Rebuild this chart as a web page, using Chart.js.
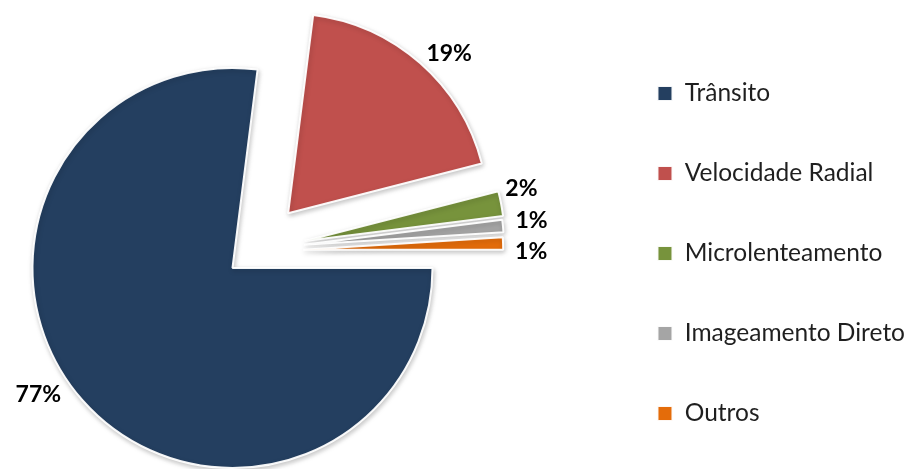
<!DOCTYPE html>
<html>
<head>
<meta charset="utf-8">
<script src="https://cdn.jsdelivr.net/npm/chart.js@4/dist/chart.umd.min.js"></script>
<style>
  html, body { margin: 0; padding: 0; background: #ffffff; overflow: hidden; }
  #wrap { width: 917px; height: 469px; position: relative; overflow: hidden; }
  /* the canvas is a little larger than the frame so the pie can sit close to the left edge */
  #chart { display: block; position: absolute; left: -137px; top: 0; }
</style>
</head>
<body>
<div id="wrap"><canvas id="chart" width="1054" height="507"></canvas></div>
<script>
// Exoplanet discoveries by detection method (share of total, %)
const categories = ['Trânsito', 'Velocidade Radial', 'Microlenteamento', 'Imageamento Direto', 'Outros'];
const shares = [77, 19, 2, 1, 1];
const sliceColors = ['#243F60', '#C0504D', '#77933C', '#A5A5A5', '#E46C0A'];

// How far each slice is pulled away from the pie (px) and the direction of the pull
// (degrees, clockwise from 12 o'clock)
const pullDistance = [0, 78, 77, 75, 73];
const pullDirection = [0, 45.5, 69.5, 72, 75.5];

// Percentage labels: distance from the (pulled) slice centre and angular nudge from the bisector
const labelDistance = [232, 227, 223, 229, 228];
const labelNudge = [8.2, 3.8, -2.7, -0.6, 2.2];

const FONT = 'Lato, "Open Sans", sans-serif';
const rad = d => d * Math.PI / 180;

function pullVector(i) {
  const a = rad(pullDirection[i]);
  return { dx: Math.sin(a) * pullDistance[i], dy: -Math.cos(a) * pullDistance[i] };
}

// Draws every slice shifted outwards by its own pull vector, with a soft drop shadow
const pullOut = {
  id: 'pullOut',
  beforeDatasetDraw(chart, args) {
    const ctx = chart.ctx;
    args.meta.data.forEach((arc, i) => {
      const { dx, dy } = pullVector(i);
      ctx.save();
      ctx.translate(dx, dy);
      ctx.shadowColor = 'rgba(0,0,0,0.22)';
      ctx.shadowBlur = 5;
      ctx.shadowOffsetX = 1;
      ctx.shadowOffsetY = 2;
      arc.draw(ctx);
      ctx.restore();
    });
    return false;
  }
};

// Percentage labels outside each slice
const sliceLabels = {
  id: 'sliceLabels',
  afterDatasetsDraw(chart) {
    const ctx = chart.ctx;
    const meta = chart.getDatasetMeta(0);
    ctx.save();
    ctx.font = 'bold 23px ' + FONT;
    ctx.fillStyle = '#000000';
    ctx.textAlign = 'center';
    ctx.textBaseline = 'middle';
    meta.data.forEach((arc, i) => {
      const { dx, dy } = pullVector(i);
      const mid = (arc.startAngle + arc.endAngle) / 2 + rad(labelNudge[i]);
      const x = arc.x + dx + Math.cos(mid) * labelDistance[i];
      const y = arc.y + dy + Math.sin(mid) * labelDistance[i];
      ctx.fillText(shares[i] + '%', x, y);
    });
    ctx.restore();
  }
};

new Chart(document.getElementById('chart'), {
  type: 'pie',
  data: {
    labels: categories,
    datasets: [{
      data: shares,
      backgroundColor: sliceColors,
      borderColor: 'rgba(255,255,255,0.95)',
      borderWidth: 2,
      radius: 200,
      rotation: 90
    }]
  },
  options: {
    responsive: false,
    animation: false,
    devicePixelRatio: 1,
    layout: { padding: { left: 0, right: 2, top: 0, bottom: 0 } },
    plugins: {
      tooltip: { enabled: false },
      // empty, non full-width spacer above the pie so it sits lower than the legend column
      title: { display: true, text: '', fullSize: false, padding: 0, font: { size: 12, lineHeight: '29px' } },
      legend: {
        position: 'right',
        labels: {
          boxWidth: 15,
          boxHeight: 15,
          padding: 55.5,
          color: '#1f1f1f',
          font: { family: FONT, size: 24.5 }
        }
      }
    }
  },
  plugins: [pullOut, sliceLabels]
});
</script>
</body>
</html>
